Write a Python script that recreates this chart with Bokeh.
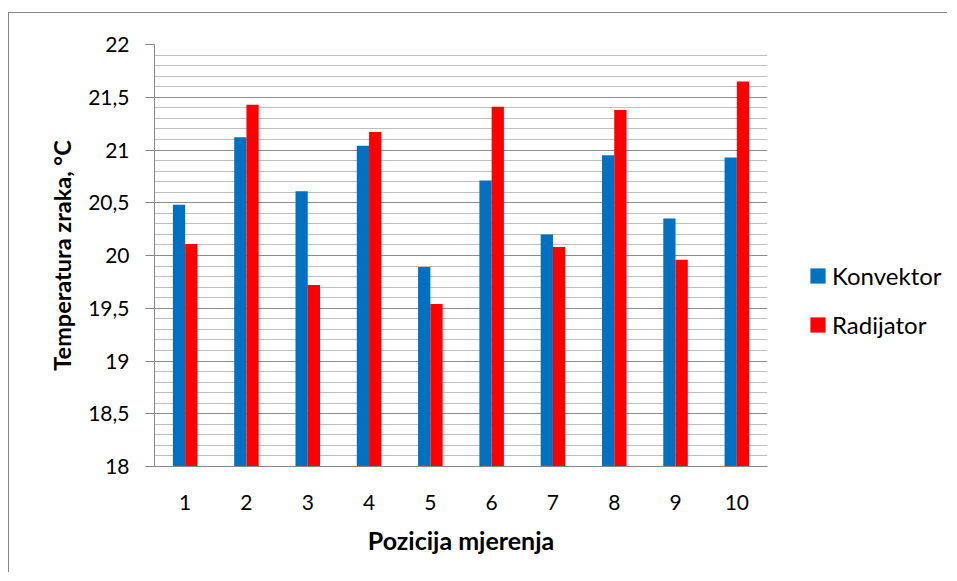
from bokeh.plotting import figure
from bokeh.layouts import row
from bokeh.models import FactorRange, Range1d, FixedTicker, Legend, LegendItem, ColumnDataSource
from bokeh.transform import dodge
from bokeh.embed import file_html
from bokeh.resources import INLINE

positions = ["1", "2", "3", "4", "5", "6", "7", "8", "9", "10"]
konvektor = [20.48, 21.12, 20.61, 21.04, 19.89, 20.71, 20.20, 20.95, 20.35, 20.93]
radijator = [20.11, 21.43, 19.72, 21.17, 19.54, 21.41, 20.08, 21.38, 19.96, 21.65]
y_ticks = [18, 18.5, 19, 19.5, 20, 20.5, 21, 21.5, 22]
y_tick_labels = ["18", "18,5", "19", "19,5", "20", "20,5", "21", "21,5", "22"]
series_names = ["Konvektor", "Radijator"]
x_title = "Pozicija mjerenja"
y_title = "Temperatura zraka, °C"

FONT = "Lato"
BLUE = "#0070C0"
RED = "#FF0000"
BORDER = "1px solid #868686"

source = ColumnDataSource(dict(pos=positions, k=konvektor, r=radijator))

p = figure(
    x_range=FactorRange(*positions, range_padding=0),
    y_range=Range1d(18, 22),
    width=768, height=560,
    output_backend="svg", toolbar_location=None,
    min_border_left=145, min_border_right=10,
    min_border_top=31, min_border_bottom=107,
)
p.margin = (12, 0, 0, 8)
p.styles = {"border-left": BORDER, "border-top": BORDER}
p.outline_line_color = None
p.background_fill_color = "white"
p.border_fill_color = "white"

p.vbar(x=dodge("pos", -0.1, range=p.x_range), top="k", bottom=18, width=0.2,
       source=source, fill_color=BLUE, line_color=None)
p.vbar(x=dodge("pos", 0.1, range=p.x_range), top="r", bottom=18, width=0.2,
       source=source, fill_color=RED, line_color=None)

# y axis
yt = FixedTicker(ticks=y_ticks,
                 minor_ticks=[round(18 + 0.1 * i, 1) for i in range(41)])
p.yaxis.ticker = yt
p.yaxis.major_label_overrides = {t: l for t, l in zip(y_ticks, y_tick_labels)}
p.yaxis.axis_line_color = "#868686"
p.yaxis.major_tick_line_color = "#868686"
p.yaxis.major_tick_out = 9
p.yaxis.major_tick_in = 0
p.yaxis.minor_tick_line_color = None
p.yaxis.major_label_standoff = 16
p.yaxis.major_label_text_font = FONT
p.yaxis.major_label_text_font_size = "21px"
p.yaxis.major_label_text_color = "#000000"
p.yaxis.axis_label = y_title
p.yaxis.axis_label_text_font = FONT
p.yaxis.axis_label_text_font_size = "23.5px"
p.yaxis.axis_label_text_font_style = "bold"
p.yaxis.axis_label_text_color = "#000000"
p.yaxis.axis_label_standoff = 9

# x axis
p.xaxis.axis_line_color = "#868686"
p.xaxis.major_tick_line_color = None
p.xaxis.minor_tick_line_color = None
p.xaxis.major_label_standoff = 22
p.xaxis.major_label_text_font = FONT
p.xaxis.major_label_text_font_size = "21px"
p.xaxis.major_label_text_color = "#000000"
p.xaxis.axis_label = x_title
p.xaxis.axis_label_text_font = FONT
p.xaxis.axis_label_text_font_size = "25px"
p.xaxis.axis_label_text_font_style = "bold"
p.xaxis.axis_label_text_color = "#000000"
p.xaxis.axis_label_standoff = 12

# grids
p.xgrid.grid_line_color = None
p.ygrid.ticker = yt
p.ygrid.grid_line_color = "#8c8c8c"
p.ygrid.grid_line_width = 1
p.ygrid.minor_grid_line_color = "#bfbfbf"
p.ygrid.minor_grid_line_width = 1

# legend panel (its swatch renderers sit outside the visible range)
q = figure(width=171, height=560, x_range=Range1d(0, 1), y_range=Range1d(0, 1),
           output_backend="svg", toolbar_location=None,
           min_border_left=0, min_border_right=0, min_border_top=0, min_border_bottom=0)
q.margin = (12, 0, 0, 0)
q.styles = {"border-top": BORDER}
q.axis.visible = False
q.grid.visible = False
q.outline_line_color = None
q.background_fill_color = "white"
q.border_fill_color = "white"
dk = q.vbar(x=[5], top=[5], bottom=[4], width=0.1, fill_color=BLUE, line_color=None)
dr = q.vbar(x=[5], top=[5], bottom=[4], width=0.1, fill_color=RED, line_color=None)

legend = Legend(
    items=[LegendItem(label=series_names[0], renderers=[dk]),
           LegendItem(label=series_names[1], renderers=[dr])],
    location=(32, 127),
    glyph_width=19, glyph_height=19, label_standoff=5,
    label_height=20, spacing=20, padding=0, margin=0,
    label_text_font=FONT, label_text_font_size="24px", label_text_color="#000000",
    border_line_color=None, background_fill_alpha=0,
)
q.add_layout(legend, "center")

layout = row(p, q, spacing=0)
open("out.html", "w").write(file_html(layout, INLINE))
